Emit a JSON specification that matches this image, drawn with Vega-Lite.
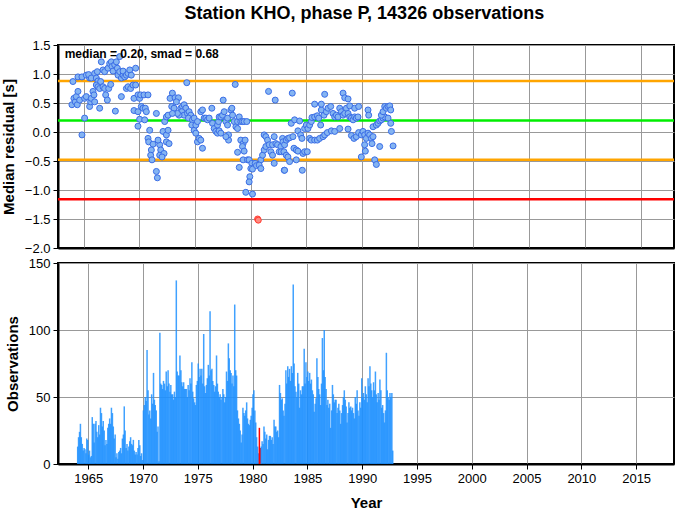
{
  "$schema": "https://vega.github.io/schema/vega-lite/v6.json",
  "padding": {"left": 0, "top": 5, "right": 5, "bottom": 0},
  "title": {"text": "Station KHO, phase P, 14326 observations", "fontSize": 18, "fontWeight": "bold", "font": "Liberation Sans", "color": "#000", "offset": 15, "anchor": "middle", "dx": 26},
  "config": {
    "font": "Liberation Sans",
    "view": {"stroke": "#000", "strokeWidth": 2},
    "axis": {"labelFont": "Liberation Sans", "labelFontSize": 13, "labelColor": "#000", "titleFont": "Liberation Sans", "titleFontSize": 15, "titleFontWeight": "bold", "titleColor": "#000", "gridColor": "#999", "gridWidth": 1, "gridOpacity": 1, "domainColor": "#000", "domainWidth": 2, "tickColor": "#000", "tickSize": 5, "tickWidth": 1, "labelPadding": 3, "labelOverlap": false}
  },
  "datasets": {
    "lines": [{"v": 0.88, "k": "a"}, {"v": 0.20, "k": "m"}, {"v": -0.48, "k": "a"}, {"v": -1.16, "k": "r"}],
    "pts": [
      {"t":1964.04,"r":0.87},{"t":1964.49,"r":0.95},{"t":1964.85,"r":0.95},{"t":1965.24,"r":0.98},{"t":1965.54,"r":0.93},{"t":1965.45,"r":0.99},{"t":1965.69,"r":0.93},{"t":1965.99,"r":1.01},{"t":1966.14,"r":0.93},{"t":1966.29,"r":0.88},{"t":1966.23,"r":1.04},{"t":1966.59,"r":1.21},{"t":1966.74,"r":1.07},{"t":1966.89,"r":1.04},{"t":1967.19,"r":1.10},{"t":1967.34,"r":1.18},{"t":1967.49,"r":1.21},{"t":1967.55,"r":1.13},{"t":1967.64,"r":1.05},{"t":1967.79,"r":1.16},{"t":1967.94,"r":1.21},{"t":1968.03,"r":1.10},{"t":1968.09,"r":0.98},{"t":1968.24,"r":1.04},{"t":1968.24,"r":1.30},{"t":1968.39,"r":0.93},{"t":1968.54,"r":0.98},{"t":1968.54,"r":1.05},{"t":1968.69,"r":0.95},{"t":1968.84,"r":0.98},{"t":1968.99,"r":1.01},{"t":1969.14,"r":1.07},{"t":1969.28,"r":0.98},{"t":1969.67,"r":1.10},
      {"t":1963.95,"r":0.47},{"t":1964.13,"r":0.58},{"t":1964.25,"r":0.52},{"t":1964.34,"r":0.61},{"t":1964.49,"r":0.70},{"t":1964.43,"r":0.47},{"t":1964.64,"r":0.55},{"t":1965.09,"r":0.58},{"t":1965.24,"r":0.61},{"t":1965.54,"r":0.44},{"t":1965.63,"r":0.52},{"t":1965.69,"r":0.58},{"t":1965.84,"r":0.70},{"t":1965.93,"r":0.64},{"t":1965.99,"r":0.52},{"t":1966.14,"r":0.81},{"t":1966.29,"r":0.78},{"t":1966.44,"r":0.75},{"t":1966.44,"r":0.41},{"t":1966.53,"r":0.87},{"t":1966.74,"r":0.78},{"t":1966.89,"r":0.75},{"t":1966.98,"r":0.64},{"t":1967.13,"r":0.55},{"t":1967.25,"r":0.75},{"t":1967.43,"r":0.82},{"t":1967.85,"r":0.36},{"t":1968.39,"r":0.61},{"t":1968.84,"r":0.75},{"t":1968.99,"r":0.78},{"t":1969.22,"r":0.75},{"t":1969.43,"r":0.81},{"t":1969.67,"r":0.81},{"t":1969.52,"r":0.58},{"t":1969.88,"r":0.64},{"t":1970.03,"r":0.58},{"t":1970.12,"r":0.64},{"t":1970.42,"r":0.64},{"t":1970.78,"r":0.64},
      {"t":1965.09,"r":0.24},{"t":1964.85,"r":-0.05},{"t":1969.52,"r":0.37},{"t":1969.88,"r":0.35},{"t":1970.18,"r":0.44},{"t":1970.33,"r":0.41},{"t":1970.54,"r":0.41},{"t":1970.63,"r":0.35},{"t":1970.03,"r":0.22},{"t":1970.48,"r":0.21},{"t":1969.88,"r":0.10},{"t":1970.93,"r":0.03},{"t":1970.78,"r":-0.11},{"t":1970.84,"r":-0.17},{"t":1971.23,"r":-0.21},{"t":1971.08,"r":-0.31},{"t":1971.02,"r":-0.40},{"t":1971.14,"r":-0.48},{"t":1971.53,"r":0.32},{"t":1971.83,"r":-0.22},{"t":1971.92,"r":-0.31},{"t":1971.83,"r":-0.40},{"t":1972.22,"r":-0.37},{"t":1972.04,"r":-0.43},{"t":1971.68,"r":-0.14},{"t":1972.13,"r":0.01},{"t":1972.28,"r":0.18},{"t":1972.43,"r":0.26},{"t":1972.58,"r":0.29},{"t":1972.43,"r":-0.05},{"t":1972.58,"r":0.03},{"t":1972.43,"r":-0.17},{"t":1971.53,"r":-0.68},{"t":1971.62,"r":-0.79},
      {"t":1972.67,"r":-0.20},{"t":1972.97,"r":0.67},{"t":1972.76,"r":0.58},{"t":1973.21,"r":0.59},{"t":1973.51,"r":0.59},{"t":1973.33,"r":0.52},{"t":1972.91,"r":0.44},{"t":1973.12,"r":0.41},{"t":1973.72,"r":0.41},{"t":1973.87,"r":0.44},{"t":1974.02,"r":0.47},{"t":1974.17,"r":0.41},{"t":1973.81,"r":0.35},{"t":1974.02,"r":0.29},{"t":1973.57,"r":0.29},{"t":1973.42,"r":0.32},{"t":1972.97,"r":0.32},{"t":1974.32,"r":0.32},{"t":1974.47,"r":0.35},{"t":1974.62,"r":0.29},{"t":1974.41,"r":0.24},{"t":1974.77,"r":0.21},{"t":1974.92,"r":0.24},{"t":1974.71,"r":0.12},{"t":1974.92,"r":0.03},{"t":1975.07,"r":0.12},{"t":1975.22,"r":0.18},{"t":1975.52,"r":0.35},{"t":1975.67,"r":0.38},{"t":1975.82,"r":0.24},{"t":1975.97,"r":0.24},{"t":1976.12,"r":0.21},{"t":1976.27,"r":0.24},{"t":1976.51,"r":0.41},{"t":1976.57,"r":0.15},{"t":1976.72,"r":0.06},{"t":1976.87,"r":0.01},{"t":1977.02,"r":0.12},{"t":1977.11,"r":0.18},{"t":1977.17,"r":0.26},{"t":1977.32,"r":0.26},{"t":1977.47,"r":0.29},{"t":1977.53,"r":0.55},{"t":1977.62,"r":0.35},{"t":1977.77,"r":0.18},{"t":1977.92,"r":0.12},{"t":1978.01,"r":-0.05},{"t":1978.01,"r":-0.14},{"t":1977.92,"r":0.24},{"t":1978.22,"r":0.38},{"t":1978.31,"r":0.41},{"t":1978.37,"r":0.29},{"t":1978.52,"r":0.18},{"t":1978.67,"r":0.09},{"t":1978.82,"r":0.18},{"t":1978.97,"r":0.26},{"t":1979.11,"r":0.18},{"t":1979.26,"r":0.18},{"t":1979.41,"r":0.18},{"t":1979.65,"r":0.18},{"t":1978.82,"r":0.06},{"t":1975.22,"r":-0.17},{"t":1975.37,"r":-0.11},{"t":1975.52,"r":-0.14},{"t":1975.67,"r":-0.28},{"t":1975.07,"r":-0.02},{"t":1977.02,"r":-0.02},{"t":1977.17,"r":0.02},{"t":1977.32,"r":-0.02},{"t":1977.77,"r":-0.08},{"t":1974.26,"r":0.85},{"t":1978.61,"r":0.82},{"t":1981.60,"r":0.70},{"t":1982.20,"r":0.55},
      {"t":1979.11,"r":-0.14},{"t":1979.32,"r":-0.20},{"t":1979.50,"r":-0.14},{"t":1979.26,"r":-0.25},{"t":1979.41,"r":-0.33},{"t":1978.82,"r":-0.35},{"t":1978.97,"r":-0.61},{"t":1979.32,"r":-0.48},{"t":1979.71,"r":-0.48},{"t":1979.86,"r":-0.48},{"t":1980.10,"r":-0.54},{"t":1980.01,"r":-0.63},{"t":1980.16,"r":-0.64},{"t":1980.40,"r":-0.54},{"t":1980.52,"r":-0.58},{"t":1979.92,"r":-0.77},{"t":1979.86,"r":-0.86},{"t":1979.56,"r":-1.04},{"t":1980.16,"r":-1.07},{"t":1980.91,"r":-0.48},{"t":1981.06,"r":-0.40},{"t":1981.21,"r":-0.31},{"t":1981.36,"r":-0.25},{"t":1981.21,"r":-0.05},{"t":1981.36,"r":-0.08},{"t":1981.51,"r":-0.14},{"t":1981.66,"r":-0.22},{"t":1981.81,"r":-0.34},{"t":1981.96,"r":-0.22},{"t":1982.11,"r":-0.08},{"t":1982.26,"r":-0.20},{"t":1982.41,"r":-0.22},{"t":1982.56,"r":-0.34},{"t":1982.71,"r":-0.25},{"t":1982.86,"r":-0.11},{"t":1981.96,"r":-0.40},{"t":1982.11,"r":-0.54},{"t":1980.76,"r":-0.57},{"t":1980.91,"r":-0.63},{"t":1983.01,"r":-0.66},
      {"t":1980.62,"r":-1.50,"out":true},{"t":1980.68,"r":-1.52,"out":true},
      {"t":1982.89,"r":-0.17},{"t":1983.04,"r":-0.22},{"t":1983.19,"r":-0.14},{"t":1983.34,"r":-0.11},{"t":1983.49,"r":-0.10},{"t":1983.79,"r":-0.08},{"t":1982.74,"r":-0.34},{"t":1982.98,"r":-0.34},{"t":1983.19,"r":-0.40},{"t":1983.34,"r":-0.43},{"t":1983.49,"r":-0.51},{"t":1983.04,"r":-0.66},{"t":1983.88,"r":-0.28},{"t":1984.09,"r":-0.31},{"t":1984.24,"r":-0.33},{"t":1984.09,"r":-0.48},{"t":1984.69,"r":-0.37},{"t":1984.84,"r":-0.34},{"t":1985.08,"r":-0.34},{"t":1984.63,"r":-0.66},{"t":1983.64,"r":0.15},{"t":1983.94,"r":0.21},{"t":1984.39,"r":0.19},{"t":1984.24,"r":0.02},{"t":1984.48,"r":-0.05},{"t":1984.60,"r":-0.11},{"t":1984.84,"r":0.06},{"t":1984.99,"r":0.12},{"t":1985.14,"r":0.06},{"t":1985.29,"r":0.12},{"t":1985.44,"r":0.18},{"t":1985.50,"r":0.25},{"t":1985.74,"r":0.26},{"t":1985.98,"r":0.28},{"t":1986.10,"r":0.24},{"t":1986.28,"r":0.12},{"t":1985.29,"r":-0.11},{"t":1985.44,"r":-0.14},{"t":1985.74,"r":-0.14},{"t":1985.98,"r":-0.14},{"t":1986.19,"r":-0.11},{"t":1986.49,"r":-0.08},{"t":1986.64,"r":-0.05},{"t":1986.88,"r":-0.01},{"t":1987.24,"r":0.02},{"t":1987.54,"r":0.01},{"t":1987.99,"r":0.06},{"t":1986.34,"r":0.38},{"t":1986.58,"r":0.29},{"t":1986.79,"r":0.35},{"t":1986.94,"r":0.41},{"t":1987.18,"r":0.44},{"t":1987.39,"r":0.32},{"t":1987.54,"r":0.26},{"t":1987.69,"r":0.29},{"t":1987.84,"r":0.26},{"t":1987.99,"r":0.41},{"t":1988.14,"r":0.35},{"t":1988.29,"r":0.29},{"t":1988.44,"r":0.32},{"t":1988.59,"r":0.41},{"t":1988.74,"r":0.32},{"t":1988.89,"r":0.26},{"t":1989.04,"r":0.24},{"t":1989.19,"r":0.21},{"t":1989.33,"r":0.26},{"t":1989.48,"r":0.24},{"t":1989.63,"r":0.26},{"t":1985.74,"r":0.48},{"t":1986.34,"r":0.48},{"t":1986.64,"r":0.65},{"t":1988.29,"r":0.67},{"t":1988.44,"r":0.59},{"t":1988.74,"r":0.57},{"t":1988.89,"r":0.45},{"t":1989.33,"r":0.41},{"t":1989.69,"r":0.44},{"t":1988.74,"r":0.05},{"t":1989.04,"r":-0.06},{"t":1989.27,"r":-0.11},{"t":1989.48,"r":-0.08},{"t":1989.69,"r":-0.01},{"t":1989.93,"r":-0.05},{"t":1990.08,"r":0.01},{"t":1990.23,"r":-0.05},{"t":1990.38,"r":-0.11},{"t":1990.53,"r":-0.02},{"t":1990.68,"r":-0.05},{"t":1990.83,"r":-0.11},{"t":1990.98,"r":-0.08},{"t":1990.89,"r":-0.20},{"t":1990.23,"r":-0.22},{"t":1990.29,"r":-0.33},{"t":1989.93,"r":-0.43},{"t":1991.13,"r":-0.48},{"t":1991.28,"r":-0.56},{"t":1991.58,"r":-0.25},{"t":1990.53,"r":0.38},{"t":1990.59,"r":0.29},{"t":1990.98,"r":0.09},{"t":1991.28,"r":0.12},{"t":1991.43,"r":0.15},{"t":1991.58,"r":0.19},{"t":1991.73,"r":0.21},{"t":1991.88,"r":0.24},{"t":1992.03,"r":0.26},{"t":1991.73,"r":0.29},{"t":1991.88,"r":0.35},{"t":1992.03,"r":0.44},{"t":1992.18,"r":0.41},{"t":1992.33,"r":0.44},{"t":1992.48,"r":0.45},{"t":1992.57,"r":0.38},{"t":1992.33,"r":0.24},{"t":1992.57,"r":0.15},{"t":1992.63,"r":0.01},{"t":1992.78,"r":-0.24},{"t":1983.73,"r":0.67}
    ],
    "obs": [
      {"t":1964.04,"n":13},{"t":1964.12,"n":20},{"t":1964.21,"n":24},{"t":1964.29,"n":30},{"t":1964.37,"n":20},{"t":1964.46,"n":15},{"t":1964.54,"n":10},{"t":1964.62,"n":12},{"t":1964.71,"n":11},{"t":1964.79,"n":8},{"t":1964.87,"n":19},{"t":1964.96,"n":18},
      {"t":1965.04,"n":7},{"t":1965.12,"n":10},{"t":1965.21,"n":5},{"t":1965.29,"n":6},{"t":1965.37,"n":35},{"t":1965.46,"n":30},{"t":1965.54,"n":16},{"t":1965.62,"n":30},{"t":1965.71,"n":32},{"t":1965.79,"n":24},{"t":1965.87,"n":20},{"t":1965.96,"n":29},
      {"t":1966.04,"n":22},{"t":1966.12,"n":42},{"t":1966.21,"n":38},{"t":1966.29,"n":28},{"t":1966.37,"n":32},{"t":1966.46,"n":25},{"t":1966.54,"n":14},{"t":1966.62,"n":18},{"t":1966.71,"n":15},{"t":1966.79,"n":27},{"t":1966.87,"n":30},{"t":1966.96,"n":34},
      {"t":1967.04,"n":30},{"t":1967.12,"n":42},{"t":1967.21,"n":38},{"t":1967.29,"n":28},{"t":1967.37,"n":19},{"t":1967.46,"n":22},{"t":1967.54,"n":5},{"t":1967.62,"n":8},{"t":1967.71,"n":4},{"t":1967.79,"n":9},{"t":1967.87,"n":10},{"t":1967.96,"n":12},
      {"t":1968.04,"n":8},{"t":1968.12,"n":19},{"t":1968.21,"n":22},{"t":1968.29,"n":43},{"t":1968.37,"n":25},{"t":1968.46,"n":12},{"t":1968.54,"n":15},{"t":1968.62,"n":10},{"t":1968.71,"n":13},{"t":1968.79,"n":17},{"t":1968.87,"n":20},{"t":1968.96,"n":15},
      {"t":1969.04,"n":14},{"t":1969.12,"n":18},{"t":1969.21,"n":10},{"t":1969.29,"n":7},{"t":1969.37,"n":9},{"t":1969.46,"n":7},{"t":1969.54,"n":12},{"t":1969.62,"n":18},{"t":1969.71,"n":14},{"t":1969.79,"n":6},{"t":1969.87,"n":8},{"t":1969.96,"n":3},
      {"t":1970.04,"n":40},{"t":1970.12,"n":44},{"t":1970.21,"n":50},{"t":1970.29,"n":47},{"t":1970.37,"n":85},{"t":1970.46,"n":55},{"t":1970.54,"n":37},{"t":1970.62,"n":40},{"t":1970.71,"n":34},{"t":1970.79,"n":52},{"t":1970.87,"n":45},{"t":1970.96,"n":68},
      {"t":1971.04,"n":48},{"t":1971.12,"n":44},{"t":1971.21,"n":40},{"t":1971.29,"n":24},{"t":1971.37,"n":28},{"t":1971.46,"n":2},{"t":1971.54,"n":98},{"t":1971.62,"n":60},{"t":1971.71,"n":59},{"t":1971.79,"n":56},{"t":1971.87,"n":62},{"t":1971.96,"n":60},
      {"t":1972.04,"n":55},{"t":1972.12,"n":69},{"t":1972.21,"n":58},{"t":1972.29,"n":70},{"t":1972.37,"n":60},{"t":1972.46,"n":54},{"t":1972.54,"n":59},{"t":1972.62,"n":52},{"t":1972.71,"n":52},{"t":1972.79,"n":48},{"t":1972.87,"n":54},{"t":1972.96,"n":50},
      {"t":1973.04,"n":137},{"t":1973.12,"n":69},{"t":1973.21,"n":66},{"t":1973.29,"n":66},{"t":1973.37,"n":81},{"t":1973.46,"n":70},{"t":1973.54,"n":61},{"t":1973.62,"n":58},{"t":1973.71,"n":61},{"t":1973.79,"n":56},{"t":1973.87,"n":56},{"t":1973.96,"n":56},
      {"t":1974.04,"n":50},{"t":1974.12,"n":59},{"t":1974.21,"n":55},{"t":1974.29,"n":64},{"t":1974.37,"n":60},{"t":1974.46,"n":76},{"t":1974.54,"n":54},{"t":1974.62,"n":49},{"t":1974.71,"n":46},{"t":1974.79,"n":44},{"t":1974.87,"n":59},{"t":1974.96,"n":62},
      {"t":1975.04,"n":75},{"t":1975.12,"n":65},{"t":1975.21,"n":71},{"t":1975.29,"n":66},{"t":1975.37,"n":71},{"t":1975.46,"n":60},{"t":1975.54,"n":97},{"t":1975.62,"n":58},{"t":1975.71,"n":53},{"t":1975.79,"n":59},{"t":1975.87,"n":64},{"t":1975.96,"n":74},
      {"t":1976.04,"n":66},{"t":1976.12,"n":114},{"t":1976.21,"n":70},{"t":1976.29,"n":71},{"t":1976.37,"n":62},{"t":1976.46,"n":59},{"t":1976.54,"n":54},{"t":1976.62,"n":58},{"t":1976.71,"n":81},{"t":1976.79,"n":60},{"t":1976.87,"n":54},{"t":1976.96,"n":50},
      {"t":1977.04,"n":52},{"t":1977.12,"n":48},{"t":1977.21,"n":50},{"t":1977.29,"n":56},{"t":1977.37,"n":52},{"t":1977.46,"n":46},{"t":1977.54,"n":50},{"t":1977.62,"n":69},{"t":1977.71,"n":62},{"t":1977.79,"n":90},{"t":1977.87,"n":79},{"t":1977.96,"n":70},
      {"t":1978.04,"n":68},{"t":1978.12,"n":60},{"t":1978.21,"n":66},{"t":1978.29,"n":58},{"t":1978.37,"n":119},{"t":1978.46,"n":70},{"t":1978.54,"n":66},{"t":1978.62,"n":40},{"t":1978.71,"n":34},{"t":1978.79,"n":30},{"t":1978.87,"n":25},{"t":1978.96,"n":16},
      {"t":1979.04,"n":22},{"t":1979.12,"n":42},{"t":1979.21,"n":38},{"t":1979.29,"n":36},{"t":1979.37,"n":40},{"t":1979.46,"n":46},{"t":1979.54,"n":34},{"t":1979.62,"n":30},{"t":1979.71,"n":29},{"t":1979.79,"n":33},{"t":1979.87,"n":36},{"t":1979.96,"n":42},
      {"t":1980.04,"n":52},{"t":1980.12,"n":55},{"t":1980.21,"n":40},{"t":1980.29,"n":31},{"t":1980.37,"n":20},{"t":1980.46,"n":13},{"t":1980.54,"n":8},{"t":1980.62,"n":27,"out":true},{"t":1980.71,"n":12,"out":true},{"t":1980.79,"n":13},{"t":1980.87,"n":17},{"t":1980.96,"n":15},
      {"t":1981.04,"n":28},{"t":1981.12,"n":24},{"t":1981.21,"n":19},{"t":1981.29,"n":22},{"t":1981.37,"n":11},{"t":1981.46,"n":18},{"t":1981.54,"n":21},{"t":1981.62,"n":21},{"t":1981.71,"n":18},{"t":1981.79,"n":20},{"t":1981.87,"n":15},{"t":1981.96,"n":33},
      {"t":1982.04,"n":28},{"t":1982.12,"n":28},{"t":1982.21,"n":24},{"t":1982.29,"n":25},{"t":1982.37,"n":20},{"t":1982.46,"n":59},{"t":1982.54,"n":53},{"t":1982.62,"n":48},{"t":1982.71,"n":49},{"t":1982.79,"n":40},{"t":1982.87,"n":36},{"t":1982.96,"n":45},
      {"t":1983.04,"n":70},{"t":1983.12,"n":60},{"t":1983.21,"n":73},{"t":1983.29,"n":65},{"t":1983.37,"n":71},{"t":1983.46,"n":62},{"t":1983.54,"n":73},{"t":1983.62,"n":68},{"t":1983.71,"n":134},{"t":1983.79,"n":75},{"t":1983.87,"n":58},{"t":1983.96,"n":54},
      {"t":1984.04,"n":50},{"t":1984.12,"n":68},{"t":1984.21,"n":60},{"t":1984.29,"n":42},{"t":1984.37,"n":55},{"t":1984.46,"n":52},{"t":1984.54,"n":58},{"t":1984.62,"n":58},{"t":1984.71,"n":86},{"t":1984.79,"n":60},{"t":1984.87,"n":76},{"t":1984.96,"n":65},
      {"t":1985.04,"n":69},{"t":1985.12,"n":62},{"t":1985.21,"n":68},{"t":1985.29,"n":60},{"t":1985.37,"n":63},{"t":1985.46,"n":55},{"t":1985.54,"n":52},{"t":1985.62,"n":39},{"t":1985.71,"n":45},{"t":1985.79,"n":49},{"t":1985.87,"n":79},{"t":1985.96,"n":65},
      {"t":1986.04,"n":56},{"t":1986.12,"n":52},{"t":1986.21,"n":44},{"t":1986.29,"n":60},{"t":1986.37,"n":94},{"t":1986.46,"n":70},{"t":1986.54,"n":100},{"t":1986.62,"n":65},{"t":1986.71,"n":56},{"t":1986.79,"n":44},{"t":1986.87,"n":48},{"t":1986.96,"n":42},
      {"t":1987.04,"n":45},{"t":1987.12,"n":27},{"t":1987.21,"n":40},{"t":1987.29,"n":59},{"t":1987.37,"n":52},{"t":1987.46,"n":46},{"t":1987.54,"n":48},{"t":1987.62,"n":48},{"t":1987.71,"n":38},{"t":1987.79,"n":42},{"t":1987.87,"n":45},{"t":1987.96,"n":40},
      {"t":1988.04,"n":30},{"t":1988.12,"n":38},{"t":1988.21,"n":44},{"t":1988.29,"n":50},{"t":1988.37,"n":55},{"t":1988.46,"n":48},{"t":1988.54,"n":43},{"t":1988.62,"n":31},{"t":1988.71,"n":38},{"t":1988.79,"n":46},{"t":1988.87,"n":42},{"t":1988.96,"n":43},
      {"t":1989.04,"n":40},{"t":1989.12,"n":42},{"t":1989.21,"n":38},{"t":1989.29,"n":34},{"t":1989.37,"n":50},{"t":1989.46,"n":45},{"t":1989.54,"n":55},{"t":1989.62,"n":40},{"t":1989.71,"n":36},{"t":1989.79,"n":46},{"t":1989.87,"n":42},{"t":1989.96,"n":64},
      {"t":1990.04,"n":50},{"t":1990.12,"n":53},{"t":1990.21,"n":48},{"t":1990.29,"n":58},{"t":1990.37,"n":52},{"t":1990.46,"n":46},{"t":1990.54,"n":64},{"t":1990.62,"n":58},{"t":1990.71,"n":73},{"t":1990.79,"n":60},{"t":1990.87,"n":55},{"t":1990.96,"n":50},
      {"t":1991.04,"n":61},{"t":1991.12,"n":55},{"t":1991.21,"n":69},{"t":1991.29,"n":52},{"t":1991.37,"n":46},{"t":1991.46,"n":53},{"t":1991.54,"n":48},{"t":1991.62,"n":63},{"t":1991.71,"n":55},{"t":1991.79,"n":42},{"t":1991.87,"n":44},{"t":1991.96,"n":38},
      {"t":1992.04,"n":31},{"t":1992.12,"n":40},{"t":1992.21,"n":83},{"t":1992.29,"n":55},{"t":1992.37,"n":50},{"t":1992.46,"n":48},{"t":1992.54,"n":53},{"t":1992.62,"n":50},{"t":1992.71,"n":53},{"t":1992.79,"n":10}
    ]
  },
  "vconcat": [
    {
      "width": 616,
      "height": 203,
      "encoding": {
        "y": {"type": "quantitative", "scale": {"domain": [-2, 1.5], "nice": false, "zero": false},
              "axis": {"title": "Median residual [s]", "values": [-2, -1.5, -1, -0.5, 0, 0.5, 1, 1.5], "format": ".1f", "grid": true, "titlePadding": 8, "labelOverlap": false}}
      },
      "layer": [
        {
          "data": {"name": "lines"},
          "mark": {"type": "rule", "strokeWidth": 2.5},
          "encoding": {
            "y": {"field": "v", "type": "quantitative", "scale": {"domain": [-2, 1.5], "nice": false, "zero": false},
                  "axis": {"title": "Median residual [s]", "values": [-2, -1.5, -1, -0.5, 0, 0.5, 1, 1.5], "format": ".1f", "grid": true, "titlePadding": 8, "labelOverlap": false}},
            "color": {"field": "k", "type": "nominal", "scale": {"domain": ["a", "m", "r"], "range": ["#ffa500", "#00ee00", "#ff0000"]}, "legend": null}
          }
        },
        {
          "data": {"name": "pts"},
          "mark": {"type": "circle", "size": 36, "strokeWidth": 1, "opacity": 1},
          "encoding": {
            "x": {"field": "t", "type": "quantitative", "scale": {"domain": [1962.7, 2018.0], "nice": false, "zero": false},
                  "axis": {"labels": false, "ticks": false, "title": null, "values": [1965, 1970, 1975, 1980, 1985, 1990, 1995, 2000, 2005, 2010, 2015], "grid": true, "minExtent": 0, "maxExtent": 0, "labelPadding": 0}},
            "y": {"field": "r", "type": "quantitative", "scale": {"domain": [-2, 1.5], "nice": false, "zero": false},
                  "axis": {"title": "Median residual [s]", "values": [-2, -1.5, -1, -0.5, 0, 0.5, 1, 1.5], "format": ".1f", "grid": true, "titlePadding": 8, "labelOverlap": false}},
            "fill": {"condition": {"test": "datum.out", "value": "#ff8a80"}, "value": "#84b4f2"},
            "stroke": {"condition": {"test": "datum.out", "value": "#ff3b30"}, "value": "#3a6de6"}
          }
        },
        {
          "data": {"values": [{}]},
          "mark": {"type": "text", "text": "median = 0.20, smad = 0.68", "align": "left", "baseline": "middle", "fontSize": 12, "fontWeight": "bold", "font": "Liberation Sans", "color": "#000"},
          "encoding": {
            "x": {"datum": 1963.3, "type": "quantitative"},
            "y": {"datum": 1.345, "type": "quantitative"}
          }
        }
      ]
    },
    {
      "width": 616,
      "height": 201,
      "data": {"name": "obs"},
      "mark": {"type": "bar", "size": 1.5},
      "encoding": {
        "x": {"field": "t", "type": "quantitative", "scale": {"domain": [1962.7, 2018.0], "nice": false, "zero": false},
              "axis": {"title": "Year", "values": [1965, 1970, 1975, 1980, 1985, 1990, 1995, 2000, 2005, 2010, 2015], "format": "d", "grid": true, "titlePadding": 10}},
        "y": {"field": "n", "type": "quantitative", "scale": {"domain": [0, 150], "nice": false},
              "axis": {"title": "Observations", "values": [0, 50, 100, 150], "grid": true, "titlePadding": 8}},
        "color": {"condition": {"test": "datum.out", "value": "#ff0000"}, "value": "#1e90ff"},
        "opacity": {"condition": {"test": "datum.out", "value": 1}, "value": 0.85}
      }
    }
  ],
  "spacing": 0
}
